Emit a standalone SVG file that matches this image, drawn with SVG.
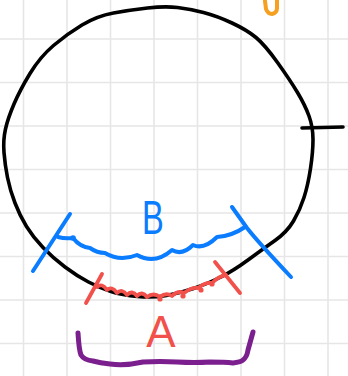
<svg xmlns="http://www.w3.org/2000/svg" width="348" height="376" viewBox="0 0 348 376">
<style>
.grid{stroke:#e6e6e6;stroke-width:1.6;fill:none}
.pen{fill:none;stroke-linecap:round;stroke-linejoin:round}
.blk{stroke:#000;stroke-width:3.6}
.blu{stroke:#0a7cff;stroke-width:4}
.red{stroke:#f2504b;stroke-width:3.8}
.pur{stroke:#7b1f8e;stroke-width:5}
.org{stroke:#f5a020;stroke-width:4}
.lbl{font-family:"Liberation Sans",Arial,sans-serif;text-anchor:middle}
</style>
<rect width="348" height="376" fill="#fff"/>
<g id="grid" class="grid">
<path d="M23.5,0V376M67,0V376M110.5,0V376M154,0V376M197.5,0V376M241,0V376M284.5,0V376M328,0V376"/>
<path d="M0,39H348M0,82.5H348M0,126H348M0,169.5H348M0,213H348M0,256.5H348M0,300H348M0,343.5H348"/>
</g>
<g id="circle" class="pen blk">
<path d="M82,25 Q97,16 113.5,13 Q130,10 147.5,8 Q165,6 177.5,7.5 Q190,9 203.5,12.5 Q217,16 232,23 Q247,30 256,37.5 Q265,45 277.5,62.5 Q290,80 297.5,92.5 Q305,105 309,116 Q313,127 313,139.5 Q313,152 310.5,168.5 Q308,185 304,197.5 Q300,210 293.5,221 Q287,232 275,240.5 Q263,249 248,260 Q233,271 220,277.5 Q207,284 193.5,288.5 Q180,293 166.5,295.5 Q153,298 137.5,296.5 Q122,295 111,291.5 Q100,288 88.5,282 Q77,276 65,267 Q53,258 43,247.5 Q33,237 26.5,226.5 Q20,216 15,203 Q10,190 7.5,177.5 Q5,165 4,152.5 Q3,140 5.5,129 Q8,118 14,104 Q20,90 30,73.5 Q40,57 53.5,45.5 Q67,34 82,25 Z"/>
<path d="M302,128 L343,127"/>
</g>
<g id="arc-b">
<g class="pen blu">
<path d="M33,271 L70,214"/>
<path d="M232,207 L247,228 Q258,242 291,277"/>
<path d="M58,237 Q65,239 73,238 Q80,247 90,248 Q97,253 105,253 Q120,262 137,255 Q155,265 172,250 Q182,256 193,245 Q204,250 217,237 Q232,236 245,227"/>
</g>
<circle cx="73" cy="238" r="2.8" fill="#0a7cff"/>
<text class="lbl" transform="translate(153,234) scale(0.68,1)" font-size="48" fill="#0a7cff">B</text>
</g>
<g id="arc-a">
<g class="pen red">
<path d="M86,303 L102,274"/>
<path d="M215,262 L240,293"/>
<path d="M97,287 Q102,282.5 107,290 Q112,285.5 117,293 Q122,288 127,295 Q132,289.5 137,296 Q142,290.5 147,297 Q153.5,292 160,297 Q166,292 172,296 Q178,290 184,293 Q191,287 198,288 Q205,282 212,283 Q219,276 226,275"/>
</g>
<g fill="#f2504b">
<circle cx="160" cy="299" r="2.6"/>
<circle cx="183" cy="296" r="2.6"/>
<circle cx="201" cy="290" r="2.6"/>
<circle cx="212" cy="284" r="2.6"/>
</g>
<text class="lbl" x="161" y="347" font-size="44" fill="#f2504b">A</text>
</g>
<g id="bracket" class="pen pur">
<path d="M78,333 Q79,350 81,355 Q84,360 93,361 Q100,363 110,364 Q125,366 143,362 Q160,361 177,362 Q195,363 210,362 Q225,362 233,363 Q241,362 243,360 Q247,357 248,350 L253,332"/>
</g>
<g id="mark" class="pen org">
<path d="M265,1 L266,9 Q268,14 272,14 Q277,13 277,8 L277,-1"/>
</g>
</svg>
